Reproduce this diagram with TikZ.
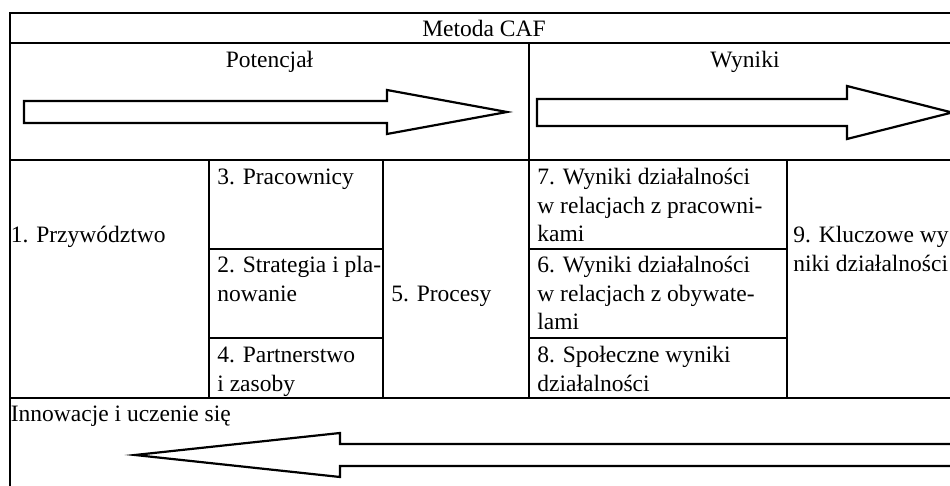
\documentclass[tikz,border=0pt]{standalone}
\usepackage{fontspec}
\setmainfont{Liberation Serif}
\usepackage{tikz}
\tikzstyle{rule}    =[line width=0.65pt]
\tikzstyle{bigarrow}=[line width=1.1pt, line join=miter]
\tikzstyle{cell}    =[anchor=base west, inner sep=0pt, align=left,
                      font=\fontsize{11.75}{14.25}\selectfont]
\tikzstyle{head}    =[anchor=base, inner sep=0pt,
                      font=\fontsize{11.75}{14.25}\selectfont]

\begin{document}
\begin{tikzpicture}[x=0.5pt,y=-0.5pt]
    \useasboundingbox (0,0) rectangle (950,486);
    \clip (0,0) rectangle (950,486);

    % frame and rows
    \draw [rule] (10,486) -- (10,13) -- (961,13) -- (961,486);
    \foreach \y in {43,160,398}
        \draw [rule] (10,\y) to (961,\y);

    % columns
    \foreach \x/\a/\b in {529/43/398,209/160/398,383/160/398,787/160/398}
        \draw [rule] (\x,\a) to (\x,\b);

    % sub rows
    \foreach \y in {249,338} {
        \draw [rule] (209,\y) to (383,\y);
        \draw [rule] (529,\y) to (787,\y);
    }

    % headings
    \draw (484,37) node (title) [head] {Metoda CAF};
    \draw (269.5,68) node (pot) [head] {Potencjał};
    \draw (745,68) node (wyn) [head] {Wyniki};

    % cells (base = last line)
    \draw (10.5,243) node (c1) [cell] {1. Przywództwo};
    \draw (217,185) node (c3) [cell] {3. Pracownicy};
    \draw (217,301.5) node (c2) [cell] {2. Strategia i pla-\\nowanie};
    \draw (217,391.5) node (c4) [cell] {4. Partnerstwo\\i zasoby};
    \draw (391,302) node (c5) [cell] {5. Procesy};
    \draw (537,242) node (c7) [cell] {7. Wyniki działalności\\w relacjach z pracowni-\\kami};
    \draw (537,330) node (c6) [cell] {6. Wyniki działalności\\w relacjach z obywate-\\lami};
    \draw (537,391.5) node (c8) [cell] {8. Społeczne wyniki\\działalności};
    \draw (793,271.5) node (c9) [cell] {9. Kluczowe wy\\niki działalności};
    \draw (10.5,422) node (inn) [cell] {Innowacje i uczenie się};

    % arrows
    \draw [bigarrow] (24,101) -- (387,101) -- (387,90) -- (507,112)
        -- (387,134) -- (387,123) -- (24,123) -- cycle;
    \draw [bigarrow] (537,99) -- (847,99) -- (847,86) -- (952,112.5)
        -- (847,139) -- (847,126) -- (537,126) -- cycle;
    \draw [bigarrow] (960,444) -- (340,444) -- (340,433) -- (135,455)
        -- (340,477) -- (340,466) -- (960,466);

\end{tikzpicture}
\end{document}
